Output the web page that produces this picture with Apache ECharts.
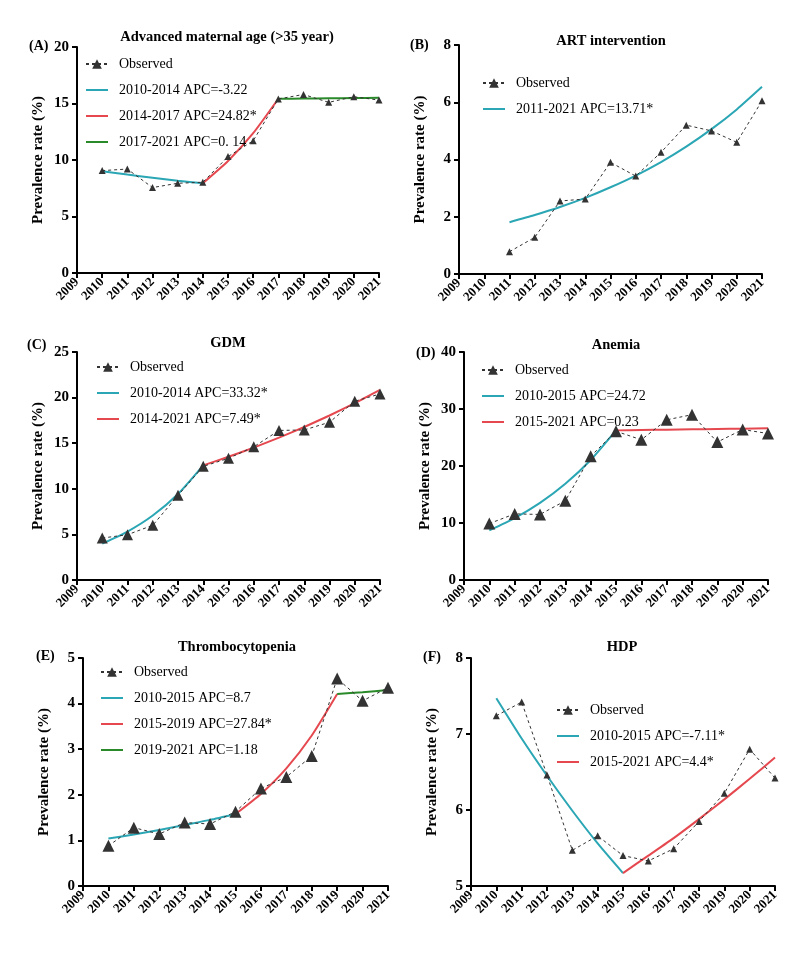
<!DOCTYPE html>
<html>
<head>
<meta charset="utf-8">
<script src="https://cdn.jsdelivr.net/npm/echarts@6/dist/echarts.min.js"></script>
<style>
  html, body { margin: 0; padding: 0; background: #fff; }
  #main { width: 800px; height: 959px; }
</style>
</head>
<body>
<div id="main"></div>
<script>
// years on the x axis
var years = [2010, 2011, 2012, 2013, 2014, 2015, 2016, 2017, 2018, 2019, 2020, 2021];

// (A) Advanced maternal age
var ageObs = [9.06, 9.2, 7.56, 7.94, 8.03, 10.3, 11.7, 15.4, 15.8, 15.1, 15.6, 15.3];
var ageFit1 = [9.0, 8.71, 8.43, 8.16, 7.94];          // 2010-2014
var ageFit2 = [7.94, 9.91, 12.37, 15.42];             // 2014-2017
var ageFit3 = [15.42, 15.44, 15.46, 15.48, 15.5];     // 2017-2021

// (B) ART intervention (starts 2011)
var artObs = [null, 0.78, 1.28, 2.55, 2.62, 3.9, 3.42, 4.25, 5.2, 5.0, 4.6, 6.05];
var artFit = [1.81, 2.06, 2.34, 2.66, 3.03, 3.44, 3.91, 4.45, 5.06, 5.75, 6.54];  // 2011-2021

// (C) GDM
var gdmObs = [4.6, 4.97, 6.0, 9.28, 12.46, 13.34, 14.6, 16.4, 16.45, 17.3, 19.6, 20.4];
var gdmFit1 = [3.98, 5.31, 7.07, 9.43, 12.57];                              // 2010-2014
var gdmFit2 = [12.57, 13.51, 14.52, 15.61, 16.78, 18.04, 19.39, 20.84];     // 2014-2021

// (D) Anemia
var anObs = [9.9, 11.6, 11.5, 13.9, 21.7, 26.1, 24.6, 28.1, 29.0, 24.2, 26.4, 25.7];
var anFit1 = [8.7, 10.85, 13.53, 16.88, 21.05, 26.25];                  // 2010-2015
var anFit2 = [26.25, 26.31, 26.37, 26.43, 26.49, 26.55, 26.61];         // 2015-2021

// (E) Thrombocytopenia
var thObs = [0.88, 1.28, 1.14, 1.39, 1.36, 1.63, 2.14, 2.39, 2.85, 4.55, 4.06, 4.35];
var thFit1 = [1.04, 1.13, 1.23, 1.34, 1.45, 1.58];   // 2010-2015
var thFit2 = [1.58, 2.02, 2.58, 3.30, 4.21];         // 2015-2019
var thFit3 = [4.21, 4.25, 4.30];                     // 2019-2021

// (F) HDP
var hdpObs = [7.24, 7.42, 6.46, 5.47, 5.66, 5.40, 5.33, 5.49, 5.85, 6.22, 6.80, 6.42];
var hdpFit1 = [7.47, 6.94, 6.45, 5.99, 5.56, 5.17];              // 2010-2015
var hdpFit2 = [5.17, 5.40, 5.63, 5.88, 6.14, 6.41, 6.69];        // 2015-2021

var TEAL = '#2aa6b4', RED = '#e5484f', GREEN = '#2a8a2a', DARK = '#333';
var FONT = 'Liberation Serif';
var LINE_ICON = 'path://M0,0 L22,0 L22,2 L0,2 Z';

function pairs(startYear, vals) {
	var out = [];
	for (var i = 0; i < vals.length; i++) {
		if (vals[i] !== null) out.push([startYear + i, vals[i]]);
	}
	return out;
}

var panels = [
	{ key: 'A', title: 'Advanced maternal age (>35 year)', grid: [77, 47, 302, 226], y: [0, 20, 5], mark: 7,
	  obs: pairs(2010, ageObs),
	  fits: [['2010-2014 APC=-3.22', 2010, ageFit1, TEAL], ['2014-2017 APC=24.82*', 2014, ageFit2, RED], ['2017-2021 APC=0. 14', 2017, ageFit3, GREEN]],
	  legend: [80, 52], tpos: [227, 37], lpos: [29, 46] },
	{ key: 'B', title: 'ART intervention', grid: [459, 45, 303, 229], y: [0, 8, 2], mark: 7,
	  obs: pairs(2010, artObs),
	  fits: [['2011-2021 APC=13.71*', 2011, artFit, TEAL]],
	  legend: [477, 71], tpos: [611, 41], lpos: [410, 45] },
	{ key: 'C', title: 'GDM', grid: [77, 352, 303, 228], y: [0, 25, 5], mark: 11,
	  obs: pairs(2010, gdmObs),
	  fits: [['2010-2014 APC=33.32*', 2010, gdmFit1, TEAL], ['2014-2021 APC=7.49*', 2014, gdmFit2, RED]],
	  legend: [91, 355], tpos: [228, 343], lpos: [27, 345] },
	{ key: 'D', title: 'Anemia', grid: [464, 352, 304, 228], y: [0, 40, 10], mark: 12,
	  obs: pairs(2010, anObs),
	  fits: [['2010-2015 APC=24.72', 2010, anFit1, TEAL], ['2015-2021 APC=0.23', 2015, anFit2, RED]],
	  legend: [476, 358], tpos: [616, 345], lpos: [416, 353] },
	{ key: 'E', title: 'Thrombocytopenia', grid: [83, 658, 305, 228], y: [0, 5, 1], mark: 12,
	  obs: pairs(2010, thObs),
	  fits: [['2010-2015 APC=8.7', 2010, thFit1, TEAL], ['2015-2019 APC=27.84*', 2015, thFit2, RED], ['2019-2021 APC=1.18', 2019, thFit3, GREEN]],
	  legend: [95, 660], tpos: [237, 647], lpos: [36, 656] },
	{ key: 'F', title: 'HDP', grid: [471, 658, 304, 228], y: [5, 8, 1], mark: 7,
	  obs: pairs(2010, hdpObs),
	  fits: [['2010-2015 APC=-7.11*', 2010, hdpFit1, TEAL], ['2015-2021 APC=4.4*', 2015, hdpFit2, RED]],
	  legend: [551, 698], tpos: [622, 647], lpos: [423, 657] }
];

var option = {
	animation: false,
	backgroundColor: '#fff',
	textStyle: { fontFamily: FONT },
	grid: [], xAxis: [], yAxis: [], series: [], legend: [], graphic: []
};

panels.forEach(function (p, i) {
	option.grid.push({ left: p.grid[0], top: p.grid[1], width: p.grid[2], height: p.grid[3] });
	option.xAxis.push({
		gridIndex: i, type: 'value', min: 2009, max: 2021, interval: 1,
		splitLine: { show: false },
		axisLine: { onZero: false, lineStyle: { color: '#000', width: 2 } },
		axisTick: { length: 5, lineStyle: { color: '#000', width: 2 } },
		axisLabel: { rotate: 45, margin: 7, color: '#000', fontFamily: FONT, fontWeight: 'bold', fontSize: 13,
			formatter: function (v) { return String(v); } }
	});
	option.yAxis.push({
		gridIndex: i, type: 'value', min: p.y[0], max: p.y[1], interval: p.y[2],
		name: 'Prevalence rate (%)', nameLocation: 'middle', nameGap: 31,
		nameTextStyle: { color: '#000', fontFamily: FONT, fontWeight: 'bold', fontSize: 15 },
		splitLine: { show: false },
		axisLine: { show: true, lineStyle: { color: '#000', width: 2 } },
		axisTick: { show: true, length: 5, lineStyle: { color: '#000', width: 2 } },
		axisLabel: { color: '#000', fontFamily: FONT, fontWeight: 'bold', fontSize: 15, margin: 8 }
	});
	var items = [{ name: p.key + '|Observed' }];
	option.series.push({
		name: p.key + '|Observed', type: 'line', xAxisIndex: i, yAxisIndex: i,
		data: p.obs, symbol: 'triangle', symbolSize: p.mark, z: 3,
		itemStyle: { color: DARK },
		lineStyle: { color: DARK, width: 1, type: [3, 3] }
	});
	p.fits.forEach(function (f) {
		items.push({ name: p.key + '|' + f[0], icon: LINE_ICON });
		option.series.push({
			name: p.key + '|' + f[0], type: 'line', xAxisIndex: i, yAxisIndex: i,
			data: pairs(f[1], f[2]), symbol: 'none', smooth: 0.2, z: 2,
			itemStyle: { color: f[3] },
			lineStyle: { color: f[3], width: 2 }
		});
	});
	option.legend.push({
		data: items, orient: 'vertical', left: p.legend[0], top: p.legend[1],
		itemWidth: 22, itemHeight: 12, itemGap: 12, selectedMode: false,
		textStyle: { color: '#000', fontFamily: FONT, fontSize: 14, padding: [0, 0, 0, 6] },
		formatter: function (n) { return n.split('|')[1]; }
	});
	option.graphic.push({
		type: 'text', x: p.tpos[0], y: p.tpos[1],
		style: { text: p.title, font: 'bold 14.5px ' + FONT, fill: '#000', align: 'center', verticalAlign: 'middle' }
	});
	option.graphic.push({
		type: 'text', x: p.lpos[0], y: p.lpos[1],
		style: { text: '(' + p.key + ')', font: 'bold 14px ' + FONT, fill: '#000', align: 'left', verticalAlign: 'middle' }
	});
});

var chart = echarts.init(document.getElementById('main'));
chart.setOption(option);
</script>
</body>
</html>
